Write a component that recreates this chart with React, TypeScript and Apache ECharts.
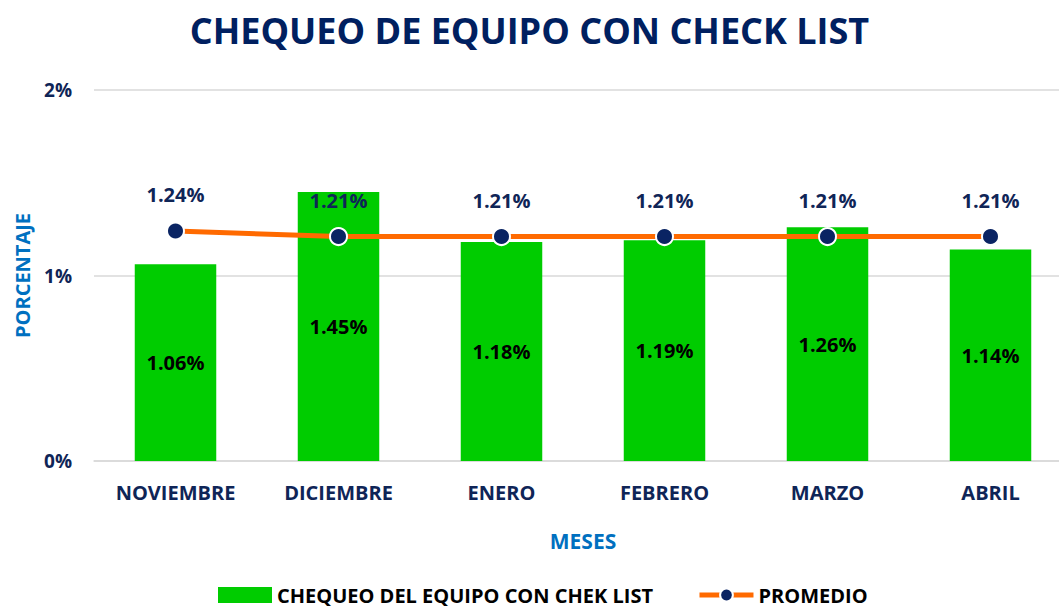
import React, { useEffect, useRef } from "react";
import * as echarts from "echarts";

const categories = ["NOVIEMBRE", "DICIEMBRE", "ENERO", "FEBRERO", "MARZO", "ABRIL"];
const chequeoValues = [1.06, 1.45, 1.18, 1.19, 1.26, 1.14];
const promedioValues = [1.24, 1.21, 1.21, 1.21, 1.21, 1.21];
const yTicks = { min: 0, max: 2, interval: 1 };

const FONT = "'Open Sans', 'Noto Sans', sans-serif";
const NAVY = "#0F2557";

export default function App() {
  const ref = useRef<HTMLDivElement>(null);
  useEffect(() => {
    if (!ref.current) return;
    const chart = echarts.init(ref.current, undefined, { renderer: "svg" });
    chart.setOption({
      animation: false,
      backgroundColor: "#ffffff",
      title: {
        text: "CHEQUEO DE EQUIPO CON CHECK LIST",
        left: "center",
        top: 7,
        textStyle: { color: "#002060", fontSize: 36, fontWeight: "bold", fontFamily: FONT },
      },
      grid: { left: 94, top: 90, width: 978, height: 371, outerBoundsMode: "none", containLabel: false },
      legend: {
        bottom: 0,
        left: 213,
        itemGap: 44,
        itemWidth: 54,
        itemHeight: 16,
        textStyle: { color: "#000", fontSize: 20, fontWeight: "bold", fontFamily: FONT },
        data: [
          { name: "CHEQUEO DEL EQUIPO CON CHEK LIST", icon: "rect" },
          { name: "PROMEDIO", lineStyle: { width: 5, color: "#FF6A00" } },
        ],
      },
      xAxis: {
        type: "category",
        data: categories,
        name: "MESES",
        nameLocation: "middle",
        nameGap: 69,
        nameTextStyle: { color: "#0070C0", fontSize: 21, fontWeight: "bold", fontFamily: FONT },
        axisLine: { lineStyle: { color: "#D9D9D9", width: 1.5 } },
        axisTick: { show: false },
        axisLabel: { color: NAVY, fontSize: 20, fontWeight: "bold", fontFamily: FONT, margin: 21 },
      },
      yAxis: {
        type: "value",
        min: yTicks.min,
        max: yTicks.max,
        interval: yTicks.interval,
        name: "PORCENTAJE",
        nameLocation: "middle",
        nameGap: 62,
        nameTextStyle: { color: "#0070C0", fontSize: 20, fontWeight: "bold", fontFamily: FONT },
        axisLine: { show: false },
        axisTick: { show: false },
        splitLine: { lineStyle: { color: "#D9D9D9", width: 1.5 } },
        axisLabel: {
          formatter: "{value}%",
          color: NAVY,
          fontSize: 19,
          fontWeight: "bold",
          fontFamily: FONT,
          margin: 22,
        },
      },
      series: [
        {
          name: "CHEQUEO DEL EQUIPO CON CHEK LIST",
          type: "bar",
          data: chequeoValues,
          barWidth: "50%",
          itemStyle: { color: "#00CC00" },
          label: {
            show: true,
            position: "inside",
            formatter: (p: any) => p.value.toFixed(2) + "%",
            color: "#000",
            fontSize: 20,
            fontWeight: "bold",
            fontFamily: FONT,
          },
          z: 1,
        },
        {
          name: "PROMEDIO",
          type: "line",
          data: promedioValues,
          symbol: "circle",
          symbolSize: 17,
          lineStyle: { color: "#FF6A00", width: 5 },
          itemStyle: { color: "#0A2463", borderColor: "#FFFFFF", borderWidth: 2 },
          label: {
            show: true,
            position: "top",
            distance: 17,
            formatter: (p: any) => p.value.toFixed(2) + "%",
            color: NAVY,
            fontSize: 20,
            fontWeight: "bold",
            fontFamily: FONT,
          },
          z: 3,
        },
      ],
    });
    return () => chart.dispose();
  }, []);
  return <div ref={ref} style={{ width: 1059, height: 610, position: "absolute", left: 0, top: 0 }} />;
}
